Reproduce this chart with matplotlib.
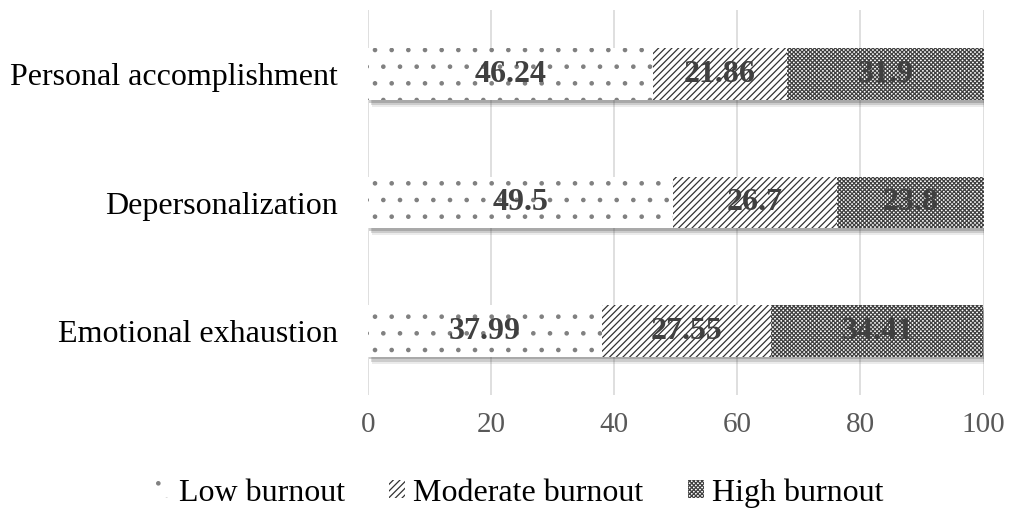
import matplotlib
matplotlib.use("Agg")
import matplotlib.pyplot as plt
import matplotlib.transforms as mtransforms

categories = ["Emotional exhaustion", "Depersonalization", "Personal accomplishment"]
low = [37.99, 49.5, 46.24]
moderate = [27.55, 26.7, 21.86]
high = [34.41, 23.8, 31.9]
series_names = ["Low burnout", "Moderate burnout", "High burnout"]
ticks = [0, 20, 40, 60, 80, 100]

plt.rcParams["font.family"] = ["Liberation Serif", "DejaVu Serif"]
plt.rcParams["hatch.linewidth"] = 0.9

fig = plt.figure(figsize=(10.14, 5.16), dpi=100)
ax = fig.add_axes([0.363, 0.234, 0.607, 0.747])

hatches = [".", "/////", "xxxxxxxx"]
edge_cols = ["#808080", "#333333", "#404040"]

y = list(range(len(categories)))
totals = [a + b + c for a, b, c in zip(low, moderate, high)]

# soft drop shadow under each full bar
for dx, dy, a in [(1, -2, 0.25), (2, -3.5, 0.18), (3, -5, 0.1)]:
    tr = ax.transData + mtransforms.ScaledTranslation(dx / 72, dy / 72, fig.dpi_scale_trans)
    ax.barh(y, totals, height=0.4, color="#404040", alpha=a, linewidth=0,
            transform=tr, zorder=2)

left = [0] * len(categories)
for vals, name, h, ec in zip([low, moderate, high], series_names, hatches, edge_cols):
    ax.barh(y, vals, left=left, height=0.4, color="white", edgecolor=ec,
            hatch=h, linewidth=0, label=name, zorder=3)
    for yi, v, l in zip(y, vals, left):
        ax.text(l + v / 2, yi, f"{v:g}", ha="center", va="center", fontsize=23,
                fontweight="bold", color="#404040", zorder=5)
    left = [a + b for a, b in zip(left, vals)]

ax.set_xlim(0, 100)
ax.set_ylim(-0.5, 2.5)
ax.set_xticks(ticks)
ax.set_xticklabels([str(t) for t in ticks])
ax.set_yticks(y)
ax.set_yticklabels(categories)
ax.tick_params(axis="x", labelsize=21, labelcolor="#595959", length=0, pad=12)
ax.tick_params(axis="y", labelsize=23, labelcolor="black", length=0, pad=22)
ax.grid(axis="x", color="#d9d9d9", linewidth=1.2, zorder=0)
for s in ax.spines.values():
    s.set_visible(False)

handles, labels = ax.get_legend_handles_labels()
fig.legend(handles, labels, loc="center", bbox_to_anchor=(0.512, 0.045), ncol=3,
           frameon=False, fontsize=23, handlelength=0.5, handleheight=0.5,
           handletextpad=0.25, columnspacing=1.4)

fig.savefig("out.png", dpi=100)
